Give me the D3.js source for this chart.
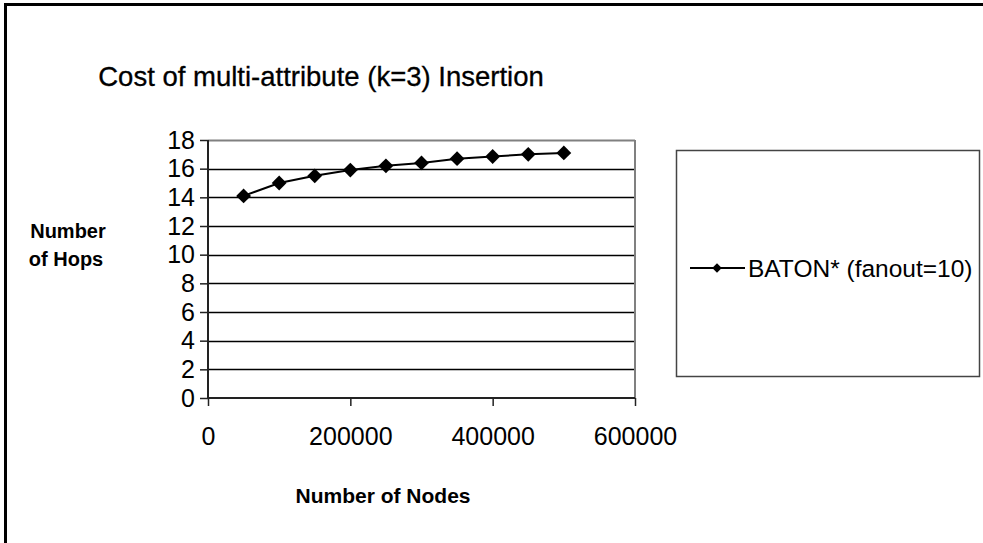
<!DOCTYPE html>
<html>
<head>
<meta charset="utf-8">
<script src="https://cdn.jsdelivr.net/npm/d3@7"></script>
<style>
  body { margin: 0; background: #fff; }
  text { font-family: "Liberation Sans", Arial, sans-serif; }
</style>
</head>
<body>
<div id="chart"></div>
<script>
// Data
var nodes = [50000, 100000, 150000, 200000, 250000, 300000, 350000, 400000, 450000, 500000];
var hops = [14.1, 15.0, 15.5, 15.9, 16.2, 16.4, 16.7, 16.85, 17.0, 17.1];
var xTicks = [0, 200000, 400000, 600000];
var yTicks = [0, 2, 4, 6, 8, 10, 12, 14, 16, 18];
var seriesName = "BATON* (fanout=10)";
var title = "Cost of multi-attribute (k=3) Insertion";

// SVG
var svgWidth = 983, svgHeight = 543;
var plot = { left: 208, right: 635, top: 140, bottom: 398 };

var svg = d3.select("#chart").append("svg")
    .attr("width", svgWidth)
    .attr("height", svgHeight);

svg.append("rect")
    .attr("width", svgWidth)
    .attr("height", svgHeight)
    .attr("fill", "white");

// borda de fora (só esquerda e topo aparecem)
svg.append("path")
    .attr("d", "M5.5," + svgHeight + " V4.5 H" + svgWidth)
    .attr("fill", "none")
    .attr("stroke", "black")
    .attr("stroke-width", 3);

var x = d3.scaleLinear()
    .domain([0, 600000])
    .range([plot.left, plot.right]);

var y = d3.scaleLinear()
    .domain([0, 18])
    .range([plot.bottom, plot.top]);

// Título
svg.append("text")
    .text(title)
    .attr("x", 321)
    .attr("y", 86)
    .attr("font-size", 27.5)
    .attr("text-anchor", "middle")
    .attr("fill", "black")
    .attr("stroke", "black")
    .attr("stroke-width", 0.3);

// Linhas de grade
svg.append("g")
    .selectAll("line")
    .data(yTicks.filter(d => d > 0))
    .enter()
    .append("line")
    .attr("x1", plot.left)
    .attr("x2", plot.right)
    .attr("y1", d => Math.round(y(d)) + 0.5)
    .attr("y2", d => Math.round(y(d)) + 0.5)
    .attr("stroke", d => d == 18 ? "#808080" : "black")
    .attr("stroke-width", d => d == 18 ? 2 : 1.3);

// moldura direita
svg.append("line")
    .attr("x1", plot.right)
    .attr("x2", plot.right)
    .attr("y1", plot.top)
    .attr("y2", plot.bottom)
    .attr("stroke", "#808080")
    .attr("stroke-width", 2);

// Eixos
var yAxis = svg.append("g")
    .attr("transform", "translate(" + plot.left + ",0)")
    .call(d3.axisLeft(y).tickValues(yTicks).tickSize(8).tickPadding(5));

var xAxis = svg.append("g")
    .attr("transform", "translate(0," + plot.bottom + ")")
    .call(d3.axisBottom(x).tickValues(xTicks).tickSize(8).tickPadding(21)
        .tickFormat(d3.format("d")));

[xAxis, yAxis].forEach(function (ax) {
    ax.select(".domain").attr("stroke", "#222").attr("stroke-width", 2);
    ax.selectAll(".tick line").attr("stroke", "#222").attr("stroke-width", 1.5);
    ax.selectAll(".tick text")
        .attr("font-size", 25)
        .attr("font-family", "Liberation Sans, Arial, sans-serif")
        .attr("fill", "black");
});
xAxis.select(".domain").attr("d", "M" + plot.left + ",0H" + plot.right);
yAxis.select(".domain").attr("d", "M0," + plot.bottom + "V" + plot.top);

// Títulos dos eixos
var yLabel = svg.append("text")
    .attr("font-size", 20)
    .attr("font-weight", "bold")
    .attr("text-anchor", "middle")
    .attr("fill", "black");
yLabel.append("tspan").attr("x", 68).attr("y", 238).text("Number");
yLabel.append("tspan").attr("x", 66).attr("y", 266).text("of Hops");

svg.append("text")
    .text("Number of Nodes")
    .attr("x", 383)
    .attr("y", 503)
    .attr("font-size", 21)
    .attr("font-weight", "bold")
    .attr("text-anchor", "middle")
    .attr("fill", "black");

// Série
var line = d3.line()
    .x((d, i) => x(nodes[i]))
    .y(d => y(d));

svg.append("path")
    .datum(hops)
    .attr("d", line)
    .attr("fill", "none")
    .attr("stroke", "black")
    .attr("stroke-width", 2);

var diamond = d3.symbol().type(d3.symbolSquare).size(110);

svg.append("g")
    .selectAll("path")
    .data(hops)
    .enter()
    .append("path")
    .attr("d", diamond)
    .attr("transform", (d, i) => "translate(" + x(nodes[i]) + "," + y(d) + ") rotate(45)")
    .attr("fill", "black");

// Legenda
var legend = svg.append("g");

legend.append("rect")
    .attr("x", 676.5)
    .attr("y", 150.5)
    .attr("width", 303)
    .attr("height", 226)
    .attr("fill", "white")
    .attr("stroke", "#444")
    .attr("stroke-width", 1.5);

legend.append("line")
    .attr("x1", 690)
    .attr("x2", 745)
    .attr("y1", 268)
    .attr("y2", 268)
    .attr("stroke", "black")
    .attr("stroke-width", 2);

legend.append("path")
    .attr("d", d3.symbol().type(d3.symbolSquare).size(45))
    .attr("transform", "translate(717,268) rotate(45)")
    .attr("fill", "black");

legend.append("text")
    .text(seriesName)
    .attr("x", 748)
    .attr("y", 277)
    .attr("font-size", 24.5)
    .attr("fill", "black");
</script>
</body>
</html>
